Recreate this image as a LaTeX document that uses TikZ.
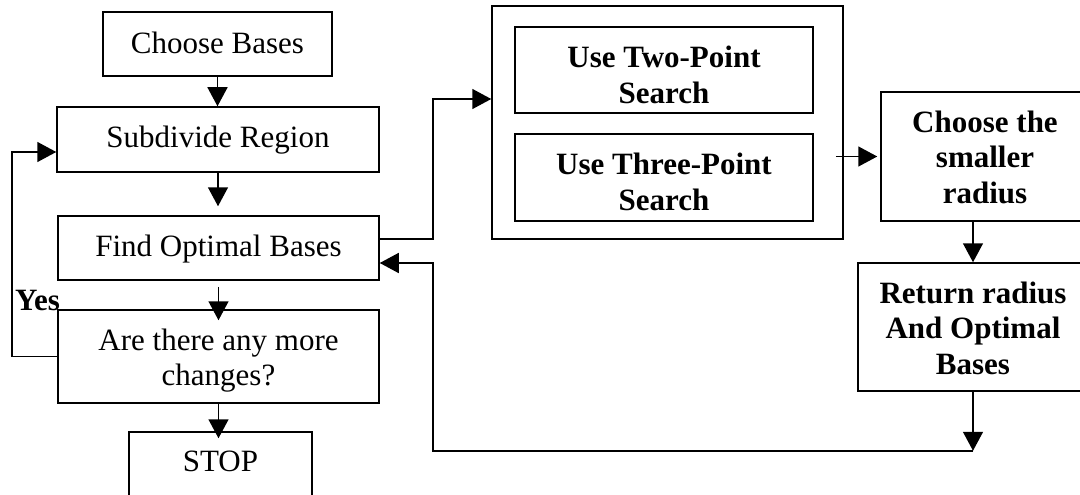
\documentclass[tikz,border=0pt]{standalone}
\usepackage{fontspec}
\setmainfont{Liberation Serif}
\usetikzlibrary{arrows.meta,calc}

\tikzset{
  box/.style={draw, line width=1.5pt, inner sep=0pt, rectangle},
  txt/.style={align=center, inner sep=0pt, font=\fontsize{31}{35}\selectfont},
  btxt/.style={align=center, inner sep=0pt, font=\fontsize{31}{35.5}\selectfont\bfseries},
  arr/.style={line width=1.5pt, -{Triangle[length=19pt,width=20pt]}},
  wire/.style={line width=1.5pt}
}

\begin{document}
\begin{tikzpicture}[x=1pt, y=-1pt]
\useasboundingbox (0,0) rectangle (1080,495);
\clip (0,0) rectangle (1080,495);

% main loop (left column)
\node[box, minimum width=229pt, minimum height=64pt] (cb) at (217.5,44) {};
\node[txt] (cbT) at (217.5,42.5) {Choose Bases};

\node[box, minimum width=322pt, minimum height=65pt] (sr) at (218,139.5) {};
\node[txt] (srT) at (218,140) {Subdivide Region};

\node[box, minimum width=321pt, minimum height=64pt] (fo) at (218.5,248) {};
\node[txt] (foT) at (218.5,249.5) {Find Optimal Bases};

\node[box, minimum width=321pt, minimum height=93pt] (ar) at (218.5,356.5) {};
\node[txt] (arT) at (218.5,360.3) {Are there any more\\changes?};

\node[box, minimum width=183pt, minimum height=65pt] (st) at (220.5,464.5) {};
\node[txt] (stT) at (220.5,461.5) {STOP};

\node[anchor=base west, inner sep=0pt, font=\fontsize{31}{35}\selectfont\bfseries] (yes) at (15,310.5) {Yes};

% search block
\node[box, minimum width=351pt, minimum height=233pt] (outer) at (667.5,122.5) {};
\node[box, minimum width=298pt, minimum height=86pt] (two) at (664,70) {};
\node[btxt] (twoT) at (664,75) {Use Two-Point\\Search};
\node[box, minimum width=298pt, minimum height=87pt] (three) at (664,177.5) {};
\node[btxt] (threeT) at (664,182) {Use Three-Point\\Search};

% right column
\node[box, minimum width=208pt, minimum height=129pt] (cs) at (985,156.5) {};
\node[btxt] (csT) at (985,157) {Choose the\\smaller\\radius};
\node[box, minimum width=230pt, minimum height=128pt] (rr) at (973,327) {};
\node[btxt] (rrT) at (973,328) {Return radius\\And Optimal\\Bases};

% connectors
\draw[arr] (cb.south) -- (cb.south |- sr.north);
\draw[arr] (sr.south) -- ([yshift=9pt]sr.south |- fo.north);
\draw[arr] ([yshift=-6pt]fo.south) -- ([yshift=-11pt]fo.south |- ar.north);
\draw[arr] (ar.south) -- ([yshift=-7pt]ar.south |- st.north);
\draw[arr] (ar.west) -- ++(-45.5,0) |- ([yshift=-12.5pt]sr.west);

\draw[arr] ([yshift=9pt]fo.east) -- ++(53,0) |- ([yshift=23.5pt]outer.west);
\draw[arr] ($(outer.east |- cs.west)+(-8,0)$) -- ([xshift=-3pt]cs.west);
\draw[arr] (rr.north |- cs.south) -- (rr.north);

\coordinate (ret) at ($(rr.south)+(0,59)$);
\draw[arr] (rr.south) -- (ret);
\draw[arr] (ret) -- ++(-540,0) |- ([yshift=-15pt]fo.east);
\end{tikzpicture}
\end{document}
